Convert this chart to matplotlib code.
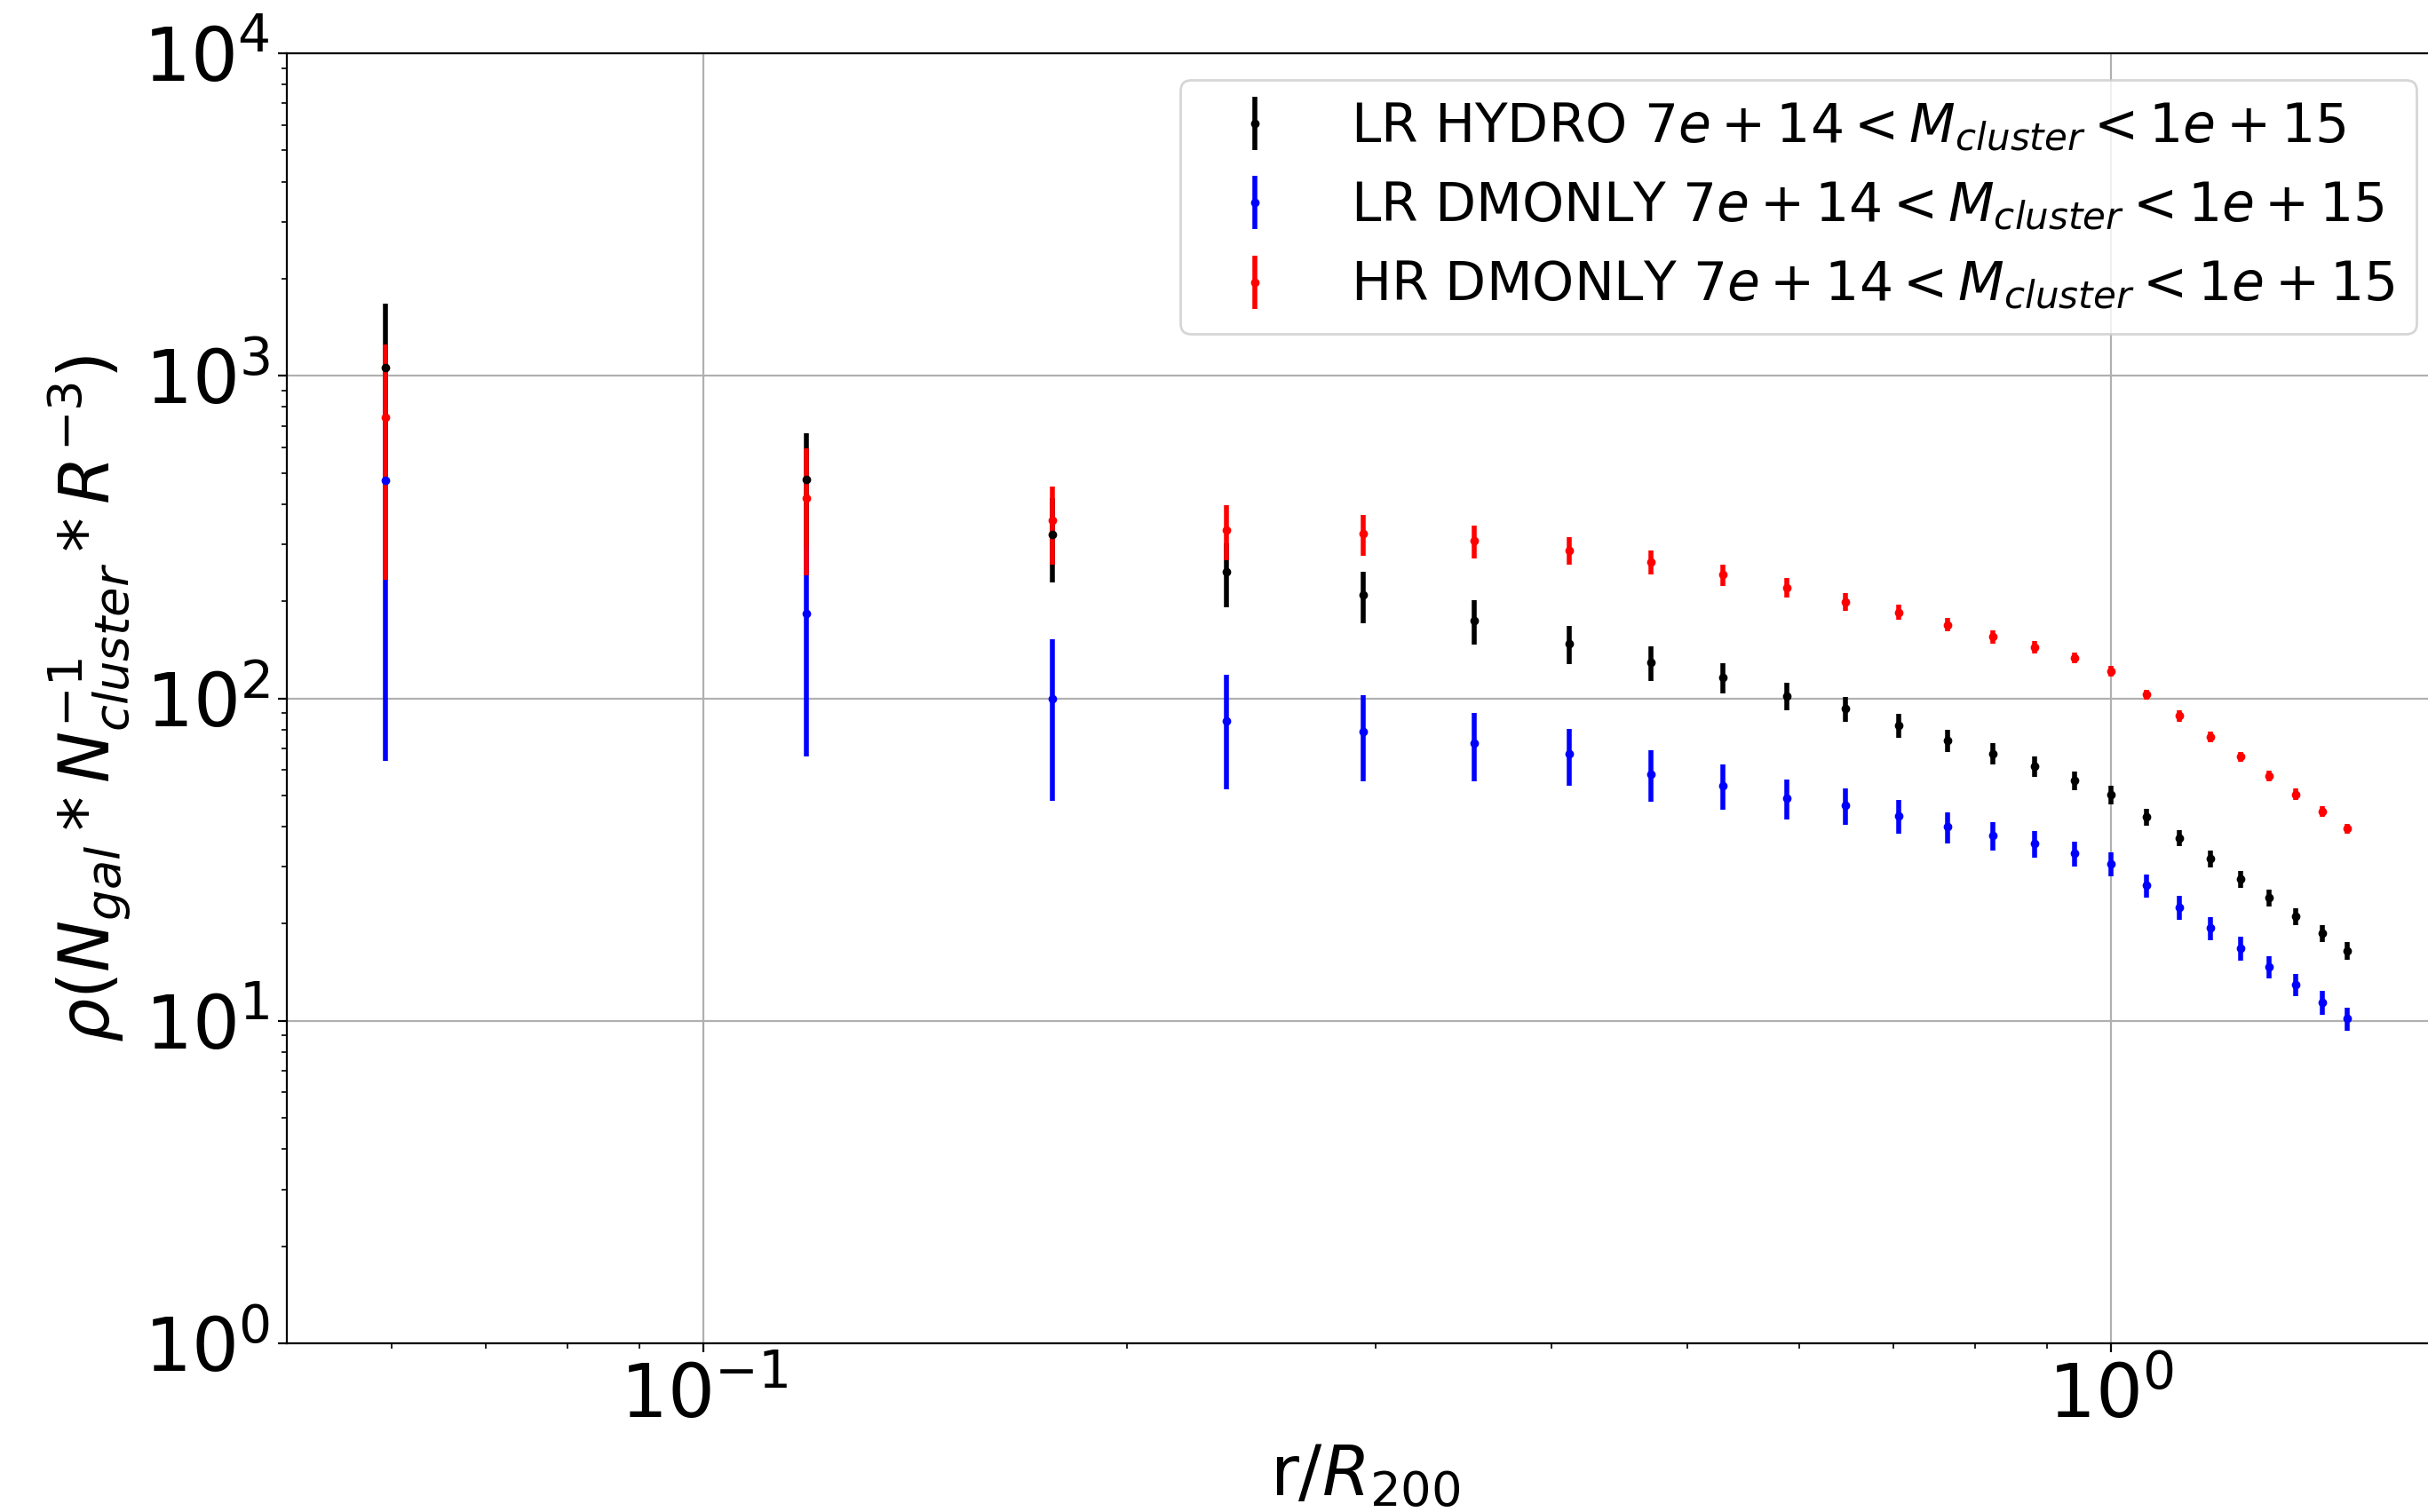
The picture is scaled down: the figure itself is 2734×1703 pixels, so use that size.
import matplotlib
matplotlib.use("Agg")
import matplotlib.pyplot as plt

# radial bins r/R200
r_bins = [0.0594, 0.1183, 0.1770, 0.2353, 0.2941, 0.3529, 0.4118, 0.4706, 0.5294,
          0.5882, 0.6471, 0.7059, 0.7647, 0.8235, 0.8824, 0.9412, 1.0, 1.0588,
          1.1176, 1.1765, 1.2353, 1.2941, 1.3529, 1.4118, 1.4706]

# LR HYDRO (black)
lr_hydro = [1063, 477, 323, 247, 209, 174, 148, 129, 116, 101.6, 92.8, 82.6, 74.1,
            67.4, 61.5, 55.5, 50.2, 42.9, 36.8, 31.8, 27.5, 24.1, 21.1, 18.7, 16.5]
lr_hydro_err = [608, 186, 94, 56, 38.5, 27, 20, 15.6, 12.4, 10, 8.2, 7, 6, 5, 4.4,
                3.7, 3.3, 2.6, 2.1, 1.9, 1.65, 1.45, 1.3, 1.15, 1.05]

# LR DMONLY (blue)
lr_dm = [473, 183, 100, 85.3, 78.8, 72.7, 67.1, 58.3, 53.6, 49.1, 46.5, 43.2, 39.9,
         37.6, 35.4, 33.0, 30.7, 26.3, 22.5, 19.4, 16.8, 14.7, 12.95, 11.4, 10.15]
lr_dm_err = [409, 117, 52, 33, 23.6, 17.5, 13.5, 10.6, 8.6, 7, 6, 5.1, 4.4, 3.8, 3.3,
             2.9, 2.6, 2.2, 1.9, 1.6, 1.4, 1.2, 1.05, 0.95, 0.85]

# HR DMONLY (red)
hr_dm = [743, 418, 356, 333, 323.6, 307.4, 288, 264.8, 241.7, 220.8, 199.3, 184.7,
         169.2, 155.0, 144.2, 133.6, 121.1, 102.8, 88.2, 76.0, 65.9, 57.4, 50.4, 44.5, 39.4]
hr_dm_err = [510, 177, 97, 65, 47, 36.5, 28, 23, 18.5, 15, 12.7, 10, 8.3, 7.3, 6.6,
             5.3, 4.6, 3.7, 3.4, 2.9, 2.4, 2.2, 2.0, 1.7, 1.45]

labels = [r"LR HYDRO $7e+14 < M_{cluster} < 1e+15$",
          r"LR DMONLY $7e+14 < M_{cluster} < 1e+15$",
          r"HR DMONLY $7e+14 < M_{cluster} < 1e+15$"]

fig = plt.figure(figsize=(13.67, 8.515), dpi=200)
ax = fig.add_axes([323.4 / 2734, 1 - 1513 / 1703, 2427.3 / 2734, (1513 - 60) / 1703])

ax.errorbar(r_bins, lr_hydro, yerr=lr_hydro_err, fmt='.', color='k', elinewidth=2,
            markersize=5, label=labels[0])
ax.errorbar(r_bins, lr_dm, yerr=lr_dm_err, fmt='.', color='b', elinewidth=2,
            markersize=5, label=labels[1])
ax.errorbar(r_bins, hr_dm, yerr=hr_dm_err, fmt='.', color='r', elinewidth=2,
            markersize=5, label=labels[2])

ax.set_xscale('log')
ax.set_yscale('log')
ax.set_xlim(0.0506, 1.72)
ax.set_ylim(1, 1e4)
ax.grid(True, which='major')
ax.tick_params(axis='both', which='major', labelsize=30)

ax.set_xlabel(r"r/$R_{200}$", fontsize=28)
ax.set_ylabel(r"$\rho(N_{gal}*N^{-1}_{cluster}*R^{-3})$", fontsize=28)
ax.legend(loc='upper right', fontsize=21.6)

fig.savefig("out.png", dpi=200)
